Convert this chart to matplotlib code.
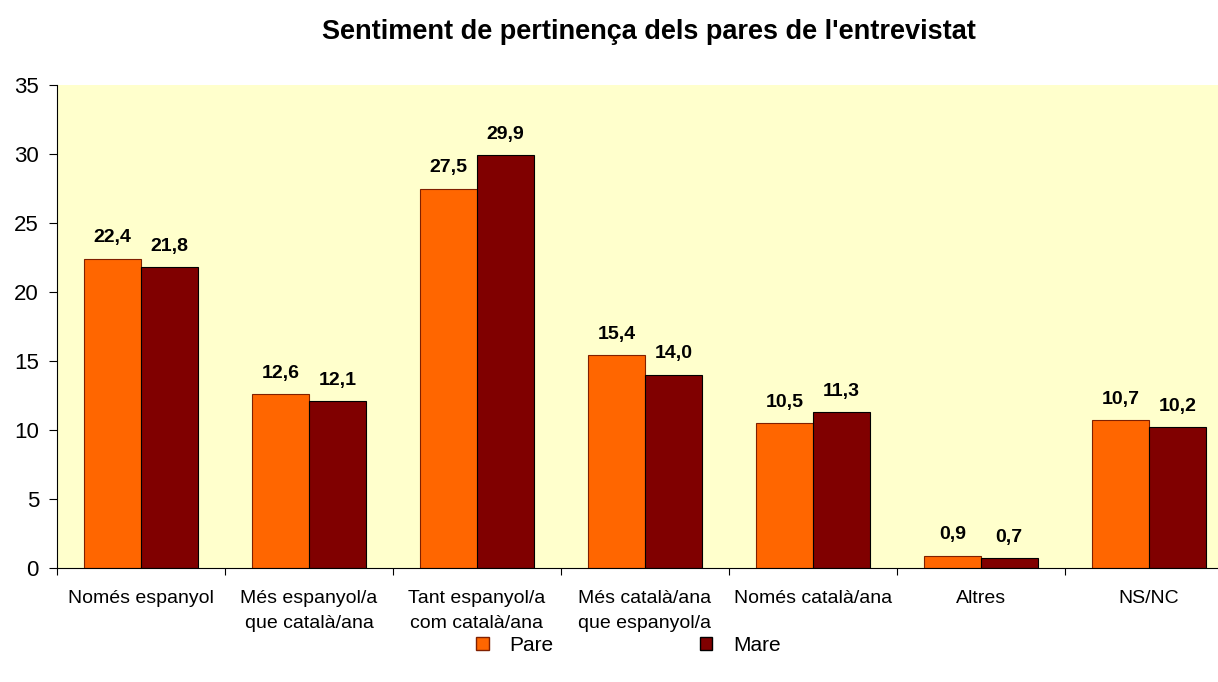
import numpy as np
import matplotlib
matplotlib.use('Agg')
from matplotlib import pyplot as plt
from matplotlib.patches import Patch

categories = ['Només espanyol', 'Més espanyol/a\nque català/ana', 'Tant espanyol/a\ncom català/ana',
              'Més català/ana\nque espanyol/a', 'Només català/ana', 'Altres', 'NS/NC']
pare = [22.4, 12.6, 27.5, 15.4, 10.5, 0.9, 10.7]
mare = [21.8, 12.1, 29.9, 14.0, 11.3, 0.7, 10.2]

plt.rcParams['font.family'] = ['Liberation Sans', 'DejaVu Sans']

fig = plt.figure(figsize=(12.18, 6.82), dpi=100)
ax = fig.add_axes([57/1218, 114/682, 1176/1218, 483/682])
ax.set_facecolor('#FFFFCC')

x = np.arange(len(categories))
w = 0.337
ax.bar(x - w/2, pare, w, color='#FF6600', edgecolor='#802000', linewidth=0.8, label='Pare')
ax.bar(x + w/2, mare, w, color='#800000', edgecolor='black', linewidth=0.8, label='Mare')

for i in range(len(x)):
    ax.text(x[i] - w/2, pare[i] + 0.9, f'{pare[i]:.1f}'.replace('.', ','), ha='center', va='bottom',
            fontsize=14, fontweight='bold')
    ax.text(x[i] + w/2, mare[i] + 0.9, f'{mare[i]:.1f}'.replace('.', ','), ha='center', va='bottom',
            fontsize=14, fontweight='bold')

ax.set_xlim(-0.5, len(categories) - 0.5)
ax.set_ylim(0, 35)
ax.set_yticks(range(0, 36, 5))
ax.set_xticks(np.arange(-0.5, len(categories), 1), minor=False, labels=[''] * (len(categories) + 1))
ax.set_xticks(x, minor=True, labels=categories)
for lbl in ax.get_xticklabels(minor=True):
    lbl.set_linespacing(1.6)
ax.tick_params(axis='x', which='minor', length=0, labelsize=14, pad=16, labelcolor='black')
ax.tick_params(axis='x', which='major', length=5, direction='out')
ax.tick_params(axis='y', labelsize=16, length=6, pad=7)
ax.spines['top'].set_visible(False)
ax.spines['right'].set_visible(False)

fig.text(0.533, 0.953, "Sentiment de pertinença dels pares de l'entrevistat", ha='center', va='center',
         fontsize=19.5, fontweight='bold')

handles = [Patch(facecolor='#FF6600', edgecolor='#802000'), Patch(facecolor='#800000', edgecolor='black')]
fig.legend(handles, ['Pare', 'Mare'], loc='center', bbox_to_anchor=(0.516, 0.054), ncol=2, frameon=False,
           fontsize=15, handlelength=0.6, handleheight=0.6, columnspacing=7.0, handletextpad=1.0)

plt.savefig('out.png', dpi=100)
